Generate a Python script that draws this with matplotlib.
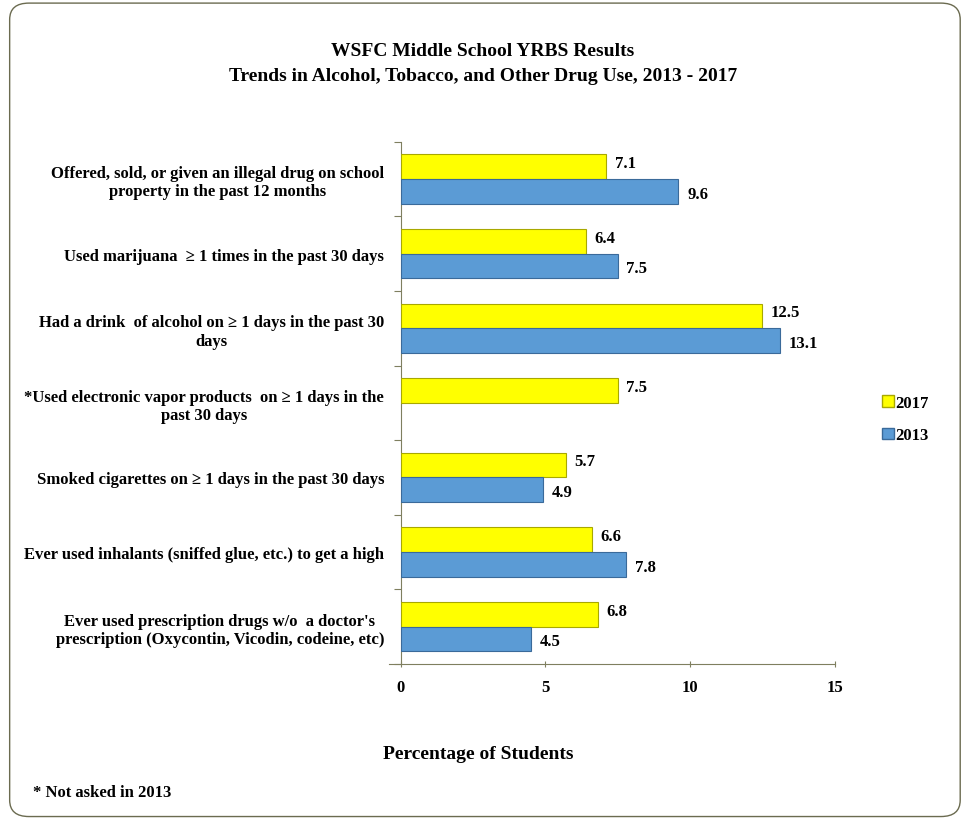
import numpy as np
import matplotlib
matplotlib.use("Agg")
import matplotlib.pyplot as plt
from matplotlib.patches import FancyBboxPatch, Patch

plt.rcParams['font.family'] = ['Liberation Serif', 'DejaVu Serif']
plt.rcParams['font.weight'] = 'bold'

categories = [
    "Offered, sold, or given an illegal drug on school\nproperty in the past 12 months",
    "Used marijuana  \u2265 1 times in the past 30 days",
    "Had a drink  of alcohol on \u2265 1 days in the past 30\ndays",
    "*Used electronic vapor products  on \u2265 1 days in the\npast 30 days",
    "Smoked cigarettes on \u2265 1 days in the past 30 days",
    "Ever used inhalants (sniffed glue, etc.) to get a high",
    "Ever used prescription drugs w/o  a doctor's\nprescription (Oxycontin, Vicodin, codeine, etc)",
]
y2017 = [7.1, 6.4, 12.5, 7.5, 5.7, 6.6, 6.8]
y2013 = [9.6, 7.5, 13.1, None, 4.9, 7.8, 4.5]
xticks = [0, 5, 10, 15]

yellow = '#ffff00'
blue = '#5b9bd5'
spine_col = '#7f7f5f'

fig = plt.figure(figsize=(9.66, 8.2), dpi=100)

# rounded outer frame
frame = FancyBboxPatch((0.010, 0.003), 0.984, 0.992,
                       boxstyle="round,pad=0,rounding_size=0.02",
                       transform=fig.transFigure, fill=False,
                       edgecolor='#6b6b50', linewidth=1.0)
fig.patches.append(frame)

ax = fig.add_axes([0.415, 0.189, 0.449, 0.637])

n = len(categories)
pos = np.arange(n)
h = 0.33
for i in range(n):
    ax.barh(pos[i] - h / 2, y2017[i], height=h, color=yellow,
            edgecolor='#a8a800', linewidth=0.8, zorder=3)
    ax.text(y2017[i] + 0.3, pos[i] - h / 2 - 0.05, f"{y2017[i]:.1f}",
            va='center', ha='left', fontsize=12, fontweight='bold')
    if y2013[i] is not None:
        ax.barh(pos[i] + h / 2, y2013[i], height=h, color=blue,
                edgecolor='#3a6a9a', linewidth=0.8, zorder=3)
        ax.text(y2013[i] + 0.3, pos[i] + h / 2 + 0.03, f"{y2013[i]:.1f}",
                va='center', ha='left', fontsize=12, fontweight='bold')

ax.set_ylim(n - 0.5, -0.5)
ax.set_xlim(0, 15)
ax.set_xticks(xticks)
ax.set_xticklabels([str(t) for t in xticks], fontsize=12, fontweight='bold')

# category labels between boundary ticks
ax.set_yticks(np.arange(n + 1) - 0.5)
ax.set_yticklabels([])
ax.set_yticks(pos, minor=True)
ax.set_yticklabels(categories, minor=True, fontsize=12, fontweight='bold',
                   multialignment='center')
ax.tick_params(axis='y', which='minor', length=0, pad=12)
ax.tick_params(axis='y', which='major', length=5, color=spine_col)
ax.tick_params(axis='x', length=5, direction='inout', color=spine_col, pad=8)

for s in ['top', 'right']:
    ax.spines[s].set_visible(False)
for s in ['left', 'bottom']:
    ax.spines[s].set_color(spine_col)
ax.spines['bottom'].set_bounds(-0.4, 15)

fig.text(0.5, 0.937, "WSFC Middle School YRBS Results", ha='center',
         va='center', fontsize=14, fontweight='bold')
fig.text(0.5, 0.907, "Trends in Alcohol, Tobacco, and Other Drug Use, 2013 - 2017",
         ha='center', va='center', fontsize=14, fontweight='bold')
fig.text(0.495, 0.08, "Percentage of Students", ha='center', va='center',
         fontsize=14, fontweight='bold')
fig.text(0.034, 0.033, "* Not asked in 2013", ha='left', va='center',
         fontsize=12, fontweight='bold')

handles = [Patch(facecolor=yellow, edgecolor='#a8a800'),
           Patch(facecolor=blue, edgecolor='#3a6a9a')]
fig.legend(handles, ['2017', '2013'], loc='center left',
           bbox_to_anchor=(0.906, 0.488), frameon=False,
           prop={'size': 12, 'weight': 'bold'},
           handlelength=0.7, handleheight=0.7, handletextpad=0.1,
           labelspacing=1.0, borderaxespad=0)

fig.savefig("out.png", dpi=100)
